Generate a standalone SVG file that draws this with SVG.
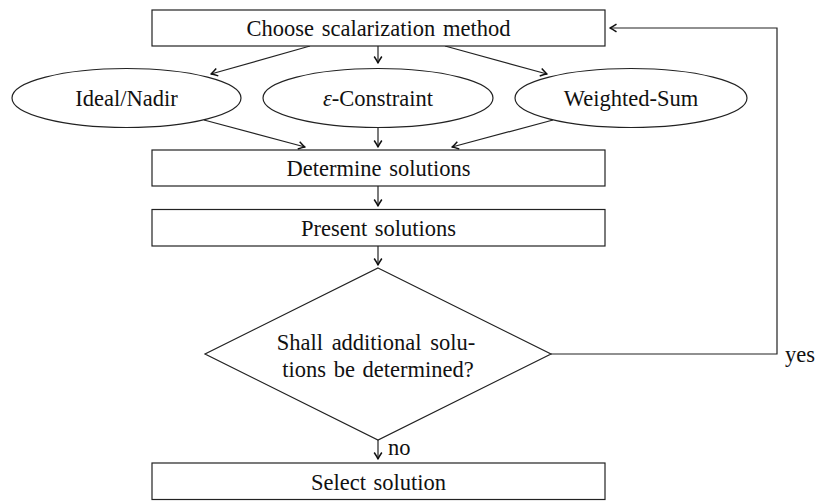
<svg xmlns="http://www.w3.org/2000/svg" width="818" height="501" viewBox="0 0 818 501">
<style>
  .box { fill: #fff; stroke: #222; stroke-width: 1.2; }
  .lbl { font-family: 'Liberation Serif', 'Times New Roman', serif; font-size: 22.5px; fill: #111; text-anchor: middle; }
  .side { font-family: 'Liberation Serif', 'Times New Roman', serif; font-size: 22.5px; fill: #111; }
  .edge { fill: none; stroke: #222; stroke-width: 1.2; marker-end: url(#arr); }
</style>
<defs>
  <marker id="arr" viewBox="-8 -5 10 10" refX="0" refY="0" markerWidth="10" markerHeight="10" markerUnits="userSpaceOnUse" orient="auto">
    <path d="M-6.5,-3.8 Q-2,-0.8 0,0 Q-2,0.8 -6.5,3.8" fill="none" stroke="#111" stroke-width="1.5" stroke-linejoin="round"/>
  </marker>
</defs>
<rect width="818" height="501" fill="#fff"/>
<g id="connectors">
  <path class="edge" d="M310,46 L211,74"/>
  <path class="edge" d="M378,46 L378,63"/>
  <path class="edge" d="M445,46 L547,74"/>
  <path class="edge" d="M204,120 L305,147"/>
  <path class="edge" d="M378,128 L378,147"/>
  <path class="edge" d="M553,120 L452,147"/>
  <path class="edge" d="M378,186 L378,206"/>
  <path class="edge" d="M378,246 L378,265"/>
  <path class="edge" d="M378,440 L378,459"/>
  <text class="side" x="388" y="455">no</text>
  <path class="edge" d="M551,354 L777,354 L777,28 L610,28"/>
  <text class="side" x="785" y="362">yes</text>
</g>
<g id="choose">
  <rect class="box" x="152" y="10" width="453" height="36"/>
  <text class="lbl" x="378.5" y="35.5" word-spacing="2">Choose scalarization method</text>
</g>
<g id="ideal">
  <ellipse class="box" cx="126.5" cy="98" rx="114.5" ry="29.5"/>
  <text class="lbl" x="126.5" y="106">Ideal/Nadir</text>
</g>
<g id="eps">
  <ellipse class="box" cx="378" cy="98" rx="115" ry="29.5"/>
  <text class="lbl" x="378" y="106"><tspan font-style="italic">ε</tspan>-Constraint</text>
</g>
<g id="weighted">
  <ellipse class="box" cx="631" cy="98" rx="116" ry="29.5"/>
  <text class="lbl" x="631" y="106">Weighted-Sum</text>
</g>
<g id="determine">
  <rect class="box" x="152" y="150" width="453" height="36"/>
  <text class="lbl" x="378.5" y="176" word-spacing="2">Determine solutions</text>
</g>
<g id="present">
  <rect class="box" x="152" y="209.5" width="453" height="36.5"/>
  <text class="lbl" x="378.5" y="236" word-spacing="2">Present solutions</text>
</g>
<g id="decision">
  <polygon class="box" points="378,268 551,354 378,440 205,354"/>
  <text class="lbl" x="376" y="350" word-spacing="3">Shall additional solu-</text>
  <text class="lbl" x="378" y="377" word-spacing="2">tions be determined?</text>
</g>
<g id="select">
  <rect class="box" x="152" y="463" width="453" height="36.5"/>
  <text class="lbl" x="378.5" y="490" word-spacing="2">Select solution</text>
</g>
</svg>
